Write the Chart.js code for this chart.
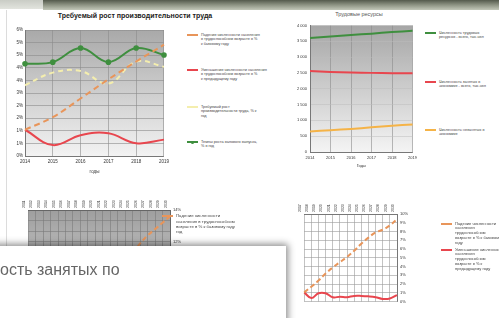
<!DOCTYPE html>
<html>
<head>
<meta charset="utf-8">
<script src="https://cdn.jsdelivr.net/npm/chart.js@4.4.1/dist/chart.umd.min.js"></script>
<style>
  body { margin: 0; background: #fff; }
  #page { position: relative; width: 499px; height: 318px; overflow: hidden; background: #fff;
          font-family: "Liberation Sans", Arial, sans-serif; }
  canvas { position: absolute; }
  .txt { position: absolute; white-space: nowrap; color: #333; }
  .leg { position: absolute; white-space: nowrap; color: #444; font-size: 3.8px; line-height: 4.5px; }
  .mark { position: absolute; height: 0; }
</style>
</head>
<body>
<div id="page">
  <!-- top bar -->
  <div style="position:absolute;left:0;top:0;width:43px;height:9px;background:linear-gradient(#c9ccc5,#e2e4de);"></div>
  <div style="position:absolute;left:43px;top:0;width:456px;height:10px;background:linear-gradient(#545a4c,#8e9484 50%,#c3c8b9);"></div>
  <div style="position:absolute;left:6px;top:10px;width:1px;height:240px;background:#dcdcdc;"></div>

  <div class="txt" style="left:55px;top:12px;width:160px;text-align:center;font-size:7px;font-weight:bold;color:#222;">Требуемый рост производительности труда</div>
  <div class="txt" style="left:309px;top:11px;width:100px;text-align:center;font-size:5.5px;color:#555;">Трудовые ресурсы</div>

  <canvas id="c1" width="164" height="150" style="left:8px;top:24px;"></canvas>
  <canvas id="c2" width="132" height="148" style="left:288px;top:20px;"></canvas>
  <canvas id="c3" width="164" height="120" style="left:22px;top:191px;"></canvas>
  <canvas id="c4" width="118" height="114" style="left:298px;top:193px;"></canvas>

  <div id="legends"></div>

  <!-- popup over the lower left chart -->
  <div style="position:absolute;left:-20px;top:246px;width:306px;height:90px;background:#fff;box-shadow:0 0 7px 2px rgba(0,0,0,0.45);z-index:5;"></div>
  <div class="txt" style="left:0;top:261px;font-size:16px;color:#666;z-index:6;">ость занятых по</div>
</div>

<script>
// chart 1: требуемый рост производительности труда, %
const years1 = ["2014", "2015", "2016", "2017", "2018", "2019"];
const fallBase1 = [1.25, 1.85, 2.74, 3.65, 4.5, 5.3];
const fallPrev1 = [1.25, 0.52, 0.99, 1.08, 0.61, 0.78];
const needGrowth1 = [3.37, 3.97, 4.05, 3.45, 4.5, 4.25];
const outputGrowth1 = [4.39, 4.47, 5.14, 4.47, 5.14, 4.81];

// chart 2: трудовые ресурсы, тыс. чел
const years2 = ["2014", "2015", "2016", "2017", "2018", "2019"];
const laborTotal2 = [3600, 3650, 3700, 3740, 3790, 3830];
const employed2 = [2560, 2530, 2510, 2500, 2490, 2485];
const unemployed2 = [650, 690, 730, 780, 830, 870];

// chart 3: lower left, mostly hidden
const years3 = ["2011", "2012", "2013", "2014", "2015", "2016", "2017", "2018", "2019", "2020",
                "2021", "2022", "2023", "2024", "2025", "2026", "2027", "2028", "2029", "2030"];
const fallBase3 = [null, null, null, null, null, null, null, null, null, null,
                   null, null, null, null, 11.3, 11.9, 12.4, 12.8, 13.2, 13.6];

// chart 4: lower right
const years4 = ["2017", "2018", "2019", "2020", "2021", "2022", "2023", "2024",
                "2025", "2026", "2027", "2028", "2029", "2030"];
const fallBase4 = [1.05, 1.7, 2.4, 3.2, 3.9, 4.5, 5.1, 5.8, 6.6, 7.3, 7.9, 8.2, 8.7, 9.4];
const fallPrev4 = [1.05, 0.4, 0.95, 0.95, 0.5, 0.55, 0.5, 0.65, 0.65, 0.6, 0.5, 0.3, 0.35, 0.75];

const orange = "#e8955a", red = "#e8464e", yellow = "#f4eeae", green = "#3f8f3f", amber = "#f5b347";

Chart.defaults.font.family = '"Liberation Sans", Arial, sans-serif';
Chart.defaults.color = "#333";
Chart.defaults.animation = false;
Chart.defaults.plugins.legend.display = false;
Chart.defaults.plugins.tooltip.enabled = false;

// gradient behind the plot area
const plotBg = {
  id: "plotBg",
  beforeDraw(chart, args, opts) {
    const a = chart.chartArea;
    const ctx = chart.ctx;
    const g = ctx.createLinearGradient(0, a.top, 0, a.bottom);
    g.addColorStop(0, opts.top || "#fff");
    g.addColorStop(1, opts.bottom || "#fff");
    ctx.save();
    ctx.fillStyle = g;
    ctx.fillRect(a.left, a.top, a.right - a.left, a.bottom - a.top);
    ctx.restore();
  }
};

function line(data, color, dash, width) {
  return {
    data: data, borderColor: color, backgroundColor: color, borderDash: dash || [],
    borderWidth: width || 2, pointRadius: 0, tension: 0.4, spanGaps: false
  };
}

function gridOpts(color) {
  return { color: color, lineWidth: 0.6, drawTicks: false };
}

const thousands = v => String(v).replace(/\B(?=(\d{3})+(?!\d))/g, " ");

// chart 1
const greenLine = line(outputGrowth1, green);
greenLine.pointRadius = 1.8;
new Chart(document.getElementById("c1"), {
  type: "line",
  data: {
    labels: years1,
    datasets: [
      line(fallBase1, orange, [6, 4]),
      line(fallPrev1, red),
      line(needGrowth1, yellow, [5, 4]),
      greenLine
    ]
  },
  options: {
    responsive: false,
    layout: { padding: { top: 3, right: 5 } },
    plugins: { plotBg: { top: "#a9a9a9", bottom: "#f3f3f3" } },
    scales: {
      x: {
        grid: gridOpts("#8c8c8c"), border: { color: "#777" },
        ticks: { font: { size: 4.5 }, padding: 3, maxRotation: 0, autoSkip: false },
        title: { display: true, text: "годы", font: { size: 4.5 }, padding: 0 },
        afterFit(s) { s.height = 18; }
      },
      y: {
        min: 0, max: 6, grid: gridOpts("#8c8c8c"), border: { color: "#777" },
        ticks: { stepSize: 0.6, font: { size: 4.5 }, padding: 2, callback: v => Math.round(v) + "%" },
        afterFit(s) { s.width = 17; }
      }
    }
  },
  plugins: [plotBg]
});

// chart 2
new Chart(document.getElementById("c2"), {
  type: "line",
  data: {
    labels: years2,
    datasets: [
      line(laborTotal2, green),
      line(employed2, red),
      line(unemployed2, amber)
    ]
  },
  options: {
    responsive: false,
    layout: { padding: { top: 4, right: 6 } },
    plugins: { plotBg: { top: "#a6a6a6", bottom: "#f4f4f4" } },
    scales: {
      x: {
        grid: gridOpts("#8c8c8c"), border: { color: "#777" },
        ticks: { font: { size: 4 }, padding: 3, maxRotation: 0, autoSkip: false },
        title: { display: true, text: "Годы", font: { size: 4 }, padding: 0 },
        afterFit(s) { s.height = 16; }
      },
      y: {
        min: 0, max: 4000, border: { color: "#777" },
        grid: { color: "#bdbdbd", lineWidth: 0.5, drawTicks: false },
        ticks: { stepSize: 500, font: { size: 4 }, padding: 3, callback: thousands },
        afterFit(s) { s.width = 22; }
      }
    }
  },
  plugins: [plotBg]
});

// chart 3
new Chart(document.getElementById("c3"), {
  type: "line",
  data: { labels: years3, datasets: [line(fallBase3, orange, [5, 3])] },
  options: {
    responsive: false,
    layout: { padding: { left: 3, bottom: 2 } },
    plugins: { plotBg: { top: "#9e9e9e", bottom: "#dcdcdc" } },
    scales: {
      x: {
        position: "top", grid: gridOpts("#7a7a7a"), border: { color: "#666" },
        ticks: { font: { size: 3.5 }, padding: 2, minRotation: 90, maxRotation: 90, autoSkip: false },
        afterFit(s) { s.height = 19; }
      },
      y: {
        position: "right", min: 8, max: 14, grid: gridOpts("#7a7a7a"), border: { color: "#666" },
        ticks: {
          stepSize: 2 / 3, font: { size: 4 }, padding: 3,
          callback: v => Math.abs(v - Math.round(v)) < 0.01 && Math.round(v) % 2 === 0 ? Math.round(v) + "%" : ""
        },
        afterFit(s) { s.width = 16; }
      }
    }
  },
  plugins: [plotBg]
});

// chart 4
new Chart(document.getElementById("c4"), {
  type: "line",
  data: {
    labels: years4,
    datasets: [
      line(fallBase4, orange, [5, 3]),
      line(fallPrev4, red)
    ]
  },
  options: {
    responsive: false,
    layout: { padding: { left: 3, bottom: 4 } },
    scales: {
      x: {
        position: "top", grid: gridOpts("#9a9a9a"), border: { color: "#777" },
        ticks: { font: { size: 3.5 }, padding: 2, minRotation: 90, maxRotation: 90, autoSkip: false },
        afterFit(s) { s.height = 21; }
      },
      y: {
        position: "right", min: 0, max: 10, grid: gridOpts("#9a9a9a"), border: { color: "#777" },
        ticks: { stepSize: 1, font: { size: 4 }, padding: 3, callback: v => v + "%" },
        afterFit(s) { s.width = 19; }
      }
    }
  }
});

// legends (text to the right of every chart)
const legendItems = [
  { x: 187, y: 35, color: orange, dash: true, lines: ["Падение численности населения", "в трудоспособном возрасте в %", "к базовому году"] },
  { x: 187, y: 70, color: red, lines: ["Уменьшение численности населения", "в трудоспособном возрасте в %", "к предыдущему году"] },
  { x: 187, y: 107, color: yellow, dash: true, lines: ["Требуемый рост", "производительности труда, % к", "год"] },
  { x: 187, y: 142, color: green, dot: true, lines: ["Темпы роста валового выпуска,", "% в год"] },
  { x: 425, y: 33, color: green, lines: ["Численность трудовых", "ресурсов - всего, тыс.чел"] },
  { x: 425, y: 82, color: red, lines: ["Численность занятых в", "экономике - всего, тыс.чел"] },
  { x: 425, y: 130, color: amber, lines: ["Численность незанятых в", "экономике"] },
  { x: 162, y: 216, color: orange, dash: true, size: 4.3, lines: ["Падение численности", "населения в трудоспособном", "возрасте в % к базовому году", "год"] },
  { x: 441, y: 224, color: orange, dash: true, size: 4, lines: ["Падение численности", "населения", "трудоспособном", "возрасте в % к базовому", "году"] },
  { x: 441, y: 250, color: red, size: 4, lines: ["Уменьшение численности", "населения", "трудоспособном", "возрасте в % к", "предыдущему году"] }
];

const legendBox = document.getElementById("legends");
legendItems.forEach(function(item) {
  const mark = document.createElement("div");
  mark.className = "mark";
  mark.style.left = item.x + "px";
  mark.style.top = (item.y - 1) + "px";
  mark.style.width = "11px";
  mark.style.borderTop = "2px " + (item.dash ? "dashed " : "solid ") + item.color;
  legendBox.appendChild(mark);
  if (item.dot) {
    const dot = document.createElement("div");
    dot.style.cssText = "position:absolute;width:3px;height:3px;border-radius:50%;background:" + item.color +
      ";left:" + (item.x + 4) + "px;top:" + (item.y - 1.5) + "px;";
    legendBox.appendChild(dot);
  }
  const size = item.size || 3.8;
  const text = document.createElement("div");
  text.className = "leg";
  text.style.left = (item.x + 14) + "px";
  text.style.top = (item.y - size * 0.6) + "px";
  text.style.fontSize = size + "px";
  text.style.lineHeight = (size * 1.2) + "px";
  text.innerHTML = item.lines.join("<br>");
  legendBox.appendChild(text);
});
</script>
</body>
</html>
